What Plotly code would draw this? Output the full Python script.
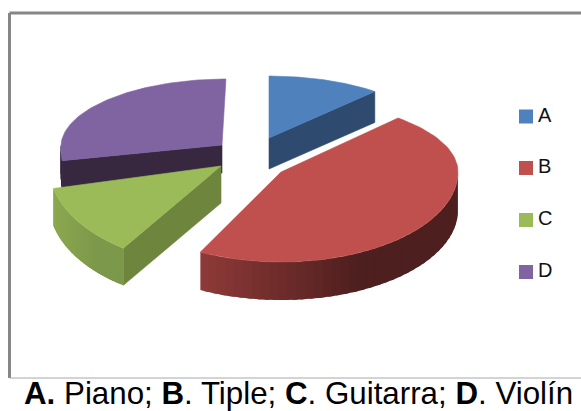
import numpy as np
import plotly.graph_objects as go

# data
categories = ["A", "B", "C", "D"]
values = [11.5, 47.0, 14.0, 27.5]
caption = "<b>A.</b> Piano; <b>B</b>. Tiple; <b>C</b>. Guitarra; <b>D</b>. Violín"

# styles / layout of the exploded 3-D look
top_colors = ["#4F81BD", "#C0504D", "#9BBB59", "#8064A2"]
radial_colors = ["#2E4A6F", "#6B2A29", "#6D853C", "#372840"]
wall_left = ["#2E4A6F", "#8E3A38", "#8CA950", "#372840"]
wall_right = ["#2E4A6F", "#4D1F1E", "#7C984A", "#372840"]
centers = [(269, 138), (281, 172), (221, 166), (222, 145)]
rx = [160, 177, 172, 161]
ry_back = [62, 72, 70, 66]
ry_front = [88, 90, 100, 100]
depth = [31, 38, 37, 28]
# perspective corrections of each slice's first and last rim angle, and its lean
start_shift = [0, 0, 4, 0]
end_shift = [0, -3.5, -4, 0]
lean = [0, 0, 0, 0.06]
W, H = 581, 411

edges = np.concatenate([[0], np.cumsum(values)]) / np.sum(values) * 360.0


def rim(i, th, dy=0.0):
    t = np.radians(th)
    c = np.cos(t)
    ry = np.where(c >= 0, ry_back[i], ry_front[i])
    off = ry * c
    return centers[i][0] + rx[i] * np.sin(t) + lean[i] * off, centers[i][1] - off + dy


def hex2rgb(h):
    return np.array([int(h[k:k + 2], 16) for k in (1, 3, 5)], float)


def poly(xs, ys, color, lw=0.6):
    return go.Scatter(x=list(xs), y=list(ys), mode="lines", fill="toself", fillcolor=color,
                      line=dict(color=color, width=lw), hoverinfo="skip", showlegend=False)


fig = go.Figure()
for i in [3, 0, 2, 1]:  # back to front
    a0, a1 = edges[i] + start_shift[i], edges[i + 1] + end_shift[i]
    cx, cy = centers[i]
    d = depth[i]
    # visible radial cut walls
    for th, vis in ((a1, 0 < a1 < 180), (a0, 180 < a0 < 360)):
        if vis:
            ex, ey = rim(i, th)
            fig.add_trace(poly([cx, ex, ex, cx, cx], [cy, ey, ey + d, cy + d, cy], radial_colors[i]))
    # outer wall (front half only), shaded along x
    lo, hi = max(a0, 90.0), min(a1, 270.0)
    if hi > lo:
        ths = np.linspace(lo, hi, 41)
        xx, _ = rim(i, ths)
        xmin, xmax = xx.min(), xx.max()
        cl, cr = hex2rgb(wall_left[i]), hex2rgb(wall_right[i])
        for t0, t1 in zip(ths[:-1], ths[1:]):
            # each band runs on into the next so that no seam shows
            seg = np.linspace(t0, min(t1 + 1.5, hi), 4)
            x0, y0 = rim(i, seg)
            _, y1 = rim(i, seg, d)
            f = np.clip((x0.mean() - xmin) / max(0.62 * (xmax - xmin), 1), 0, 1)
            col = cl + (cr - cl) * f
            color = "rgb(%d,%d,%d)" % tuple(col)
            fig.add_trace(go.Scatter(x=list(np.r_[x0, x0[::-1], x0[0]]), y=list(np.r_[y0, y1[::-1], y0[0]]),
                                     mode="none", fill="toself", fillcolor=color,
                                     hoverinfo="skip", showlegend=False))
    # top face
    ths = np.linspace(a0, a1, 90)
    x0, y0 = rim(i, ths)
    fig.add_trace(poly(np.r_[cx, x0, cx], np.r_[cy, y0, cy], top_colors[i]))

# legend
legend_y = [116.5, 168, 220, 272]
fig.add_trace(go.Scatter(x=[526] * 4, y=legend_y, mode="markers",
                         marker=dict(symbol="square", size=14, color=top_colors),
                         hoverinfo="skip", showlegend=False))
fig.add_trace(go.Scatter(x=[538] * 4, y=legend_y, mode="text", text=categories,
                         textposition="middle right",
                         textfont=dict(family="Liberation Sans", size=20, color="#111111"),
                         hoverinfo="skip", showlegend=False))

fig.update_layout(
    width=W, height=H, margin=dict(l=0, r=0, t=0, b=0),
    paper_bgcolor="white", plot_bgcolor="white", showlegend=False,
    xaxis=dict(range=[0, W], visible=False, fixedrange=True),
    yaxis=dict(range=[H, 0], visible=False, fixedrange=True),
    shapes=[
        dict(type="line", x0=9.5, x1=581, y0=13, y1=13, line=dict(color="#868686", width=3)),
        dict(type="line", x0=9.5, x1=9.5, y0=13, y1=378, line=dict(color="#868686", width=3)),
        dict(type="line", x0=9.5, x1=581, y0=378, y1=378, line=dict(color="#A8A8A8", width=1)),
    ],
    annotations=[dict(x=298.5, y=393, xref="x", yref="y", text=caption, showarrow=False,
                      font=dict(family="Liberation Sans", size=31.3, color="#000000"))],
)
fig.write_html("out.html", config=dict(displayModeBar=False),
               post_script="document.body.style.margin='0';document.body.style.overflow='hidden';")
